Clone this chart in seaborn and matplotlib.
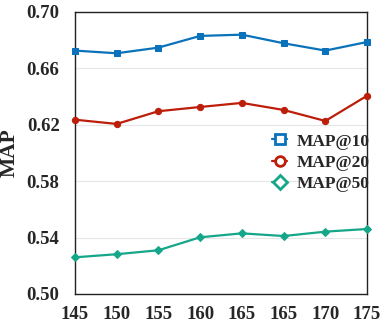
import matplotlib
matplotlib.use("Agg")
import matplotlib.pyplot as plt
import seaborn as sns

# values
x_labels = ["145", "150", "155", "160", "165", "165", "170", "175"]
map10 = [0.6726, 0.6707, 0.6747, 0.6830, 0.6839, 0.6778, 0.6726, 0.6787]
map20 = [0.6236, 0.6206, 0.6296, 0.6326, 0.6355, 0.6305, 0.6227, 0.6406]
map50 = [0.5260, 0.5282, 0.5310, 0.5402, 0.5430, 0.5411, 0.5442, 0.5461]
y_ticks = [0.50, 0.54, 0.58, 0.62, 0.66, 0.70]

series = [
    ("MAP@10", map10, "#0A72BA", "s"),
    ("MAP@20", map20, "#BD1E0A", "o"),
    ("MAP@50", map50, "#16A68A", "D"),
]

sns.set_style("white")
plt.rcParams["font.family"] = ["Liberation Serif", "DejaVu Serif"]
plt.rcParams["font.weight"] = "bold"

fig = plt.figure(figsize=(3.82, 3.32), dpi=100)
ax = fig.add_axes([0.196, 0.1145, 0.765, 0.8495])

pos = list(range(len(x_labels)))
for name, vals, col, mk in series:
    sns.lineplot(x=pos, y=vals, ax=ax, color=col, marker=mk, markersize=4.5 if mk != "D" else 4,
                 markeredgecolor=col, linewidth=1.6, label=name, clip_on=False, zorder=3)

ax.set_xlim(0, len(x_labels) - 1)
ax.set_ylim(0.50, 0.70)
ax.set_xticks(pos)
ax.set_xticklabels(x_labels)
ax.set_yticks(y_ticks)
ax.set_yticklabels([f"{v:.2f}" for v in y_ticks])
ax.tick_params(axis="both", labelsize=13.5, length=0)
ax.tick_params(axis="y", pad=11)
ax.tick_params(axis="x", pad=9)
for lab in ax.get_xticklabels() + ax.get_yticklabels():
    lab.set_fontweight("bold")
ax.set_ylabel("MAP", fontsize=15.5, fontweight="bold")
ax.yaxis.set_label_coords(-0.19, 0.5)
ax.set_xlabel("")
ax.yaxis.grid(True, color="#e6e6e6", linewidth=0.8)
ax.set_axisbelow(True)
for side in ["left", "bottom", "top", "right"]:
    ax.spines[side].set_visible(True)
    ax.spines[side].set_color("#222222")
    ax.spines[side].set_linewidth(1.0)

leg = ax.legend(loc="center left", bbox_to_anchor=(0.644, 0.465), frameon=False,
                prop={"size": 12.5, "weight": "bold"}, handlelength=0.9,
                handletextpad=0.55, labelspacing=0.3, borderpad=0)
for h in leg.legend_handles:
    h.set_markerfacecolor("white")
    h.set_markersize(7)
    h.set_markeredgewidth(2)

fig.savefig("out.png", dpi=100)
